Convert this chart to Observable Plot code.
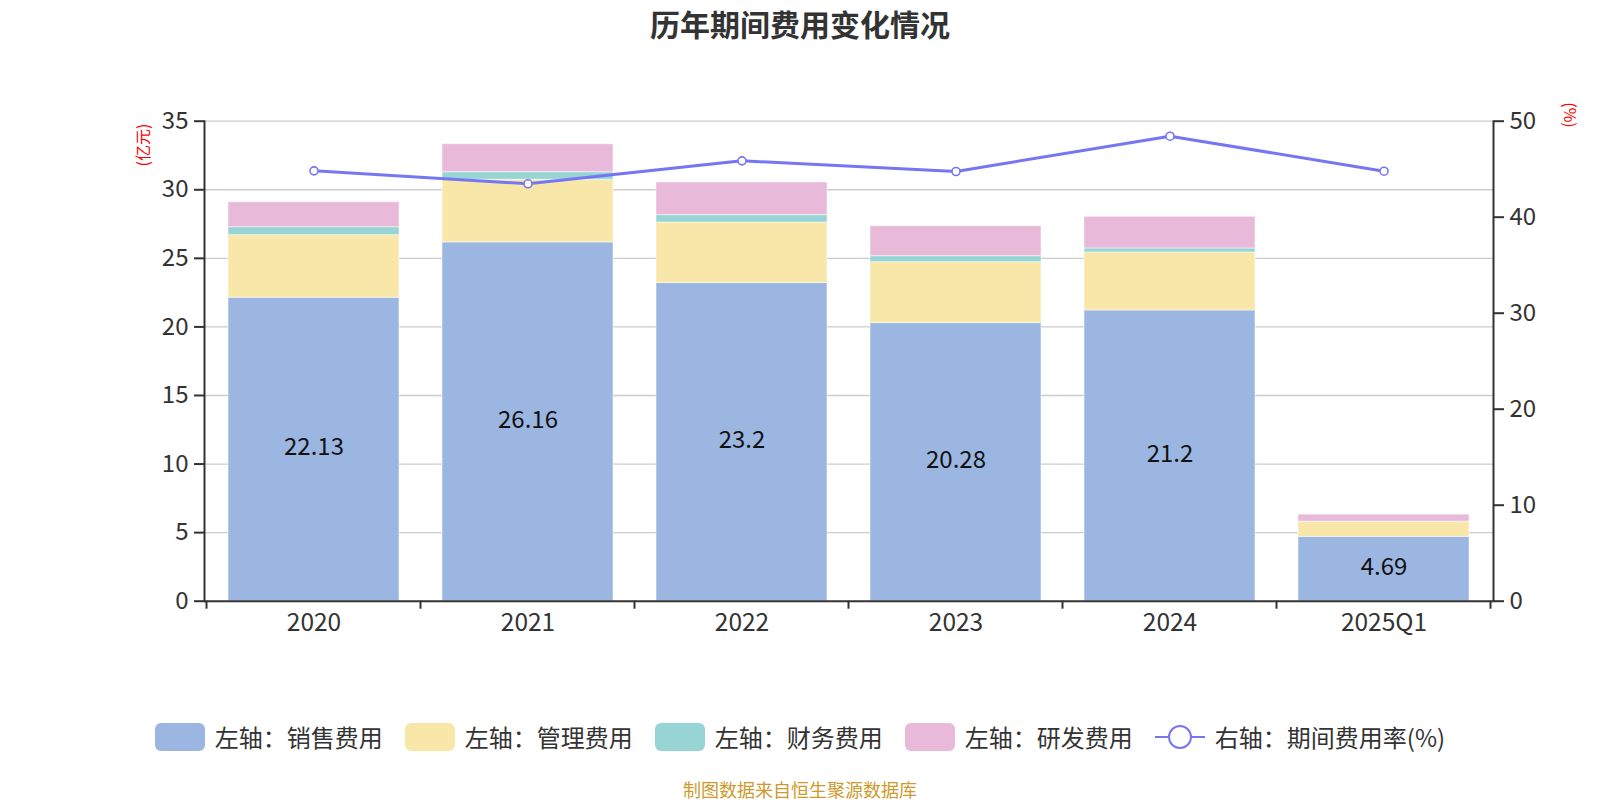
<!DOCTYPE html>
<html>
<head>
<meta charset="utf-8">
<script src="https://cdn.jsdelivr.net/npm/d3@7"></script>
<script src="https://cdn.jsdelivr.net/npm/@observablehq/plot@0.6"></script>
<style>
  html, body { margin: 0; padding: 0; background: #fff; overflow: hidden; }
  body { width: 1600px; height: 800px; position: relative; font-family: "Noto Sans CJK SC", "Noto Sans", sans-serif; }
  #chart { position: absolute; left: 0; top: 0; }
  .title { position: absolute; left: 0; width: 1600px; top: 2px; text-align: center; font-size: 30px; font-weight: bold; color: #333; z-index: 2; line-height: 42px; }
  .unit { position: absolute; width: 60px; text-align: center; color: #ff0000; font-size: 16px; z-index: 2; transform-origin: center; white-space: nowrap; line-height: 16px; }
  .legend { position: absolute; left: 0; width: 1600px; top: 719px; display: flex; justify-content: center; align-items: center; z-index: 2; font-size: 24px; color: #333; }
  .legend .item { display: flex; align-items: center; margin: 0 11px; }
  .legend .sw { width: 50px; height: 28px; border-radius: 6px; margin-right: 10px; }
  .legend svg { margin-right: 10px; }
  .caption { position: absolute; left: 0; width: 1600px; top: 777px; text-align: center; font-size: 18px; color: #cc9a2e; z-index: 2; line-height: 24px; }
</style>
</head>
<body>
<div class="title">历年期间费用变化情况</div>
<div class="unit" style="left:112px; top:137px; transform: rotate(-90deg);">(亿元)</div>
<div class="unit" style="left:1541px; top:107px; transform: rotate(90deg);">(%)</div>
<div id="chart"></div>
<div class="legend" id="legend"></div>
<div class="caption">制图数据来自恒生聚源数据库</div>
<script>
const years = ["2020", "2021", "2022", "2023", "2024", "2025Q1"];
const sales = [22.13, 26.16, 23.2, 20.28, 21.2, 4.69];
const admin = [4.56, 4.57, 4.41, 4.44, 4.23, 1.10];
const finance = [0.58, 0.55, 0.54, 0.44, 0.29, 0.01];
const rnd = [1.82, 2.04, 2.38, 2.18, 2.31, 0.51];
const rate = [44.83, 43.48, 45.87, 44.76, 48.44, 44.79];

const seriesNames = ["左轴：销售费用", "左轴：管理费用", "左轴：财务费用", "左轴：研发费用"];
const seriesColors = ["#9bb7e1", "#f8e7a9", "#97d4d4", "#e8b9d9"];
const lineName = "右轴：期间费用率(%)";
const lineColor = "#7676f4";
const leftTicks = [0, 5, 10, 15, 20, 25, 30, 35];
const rightTicks = [0, 10, 20, 30, 40, 50];

const seriesValues = [sales, admin, finance, rnd];
const barData = [];
years.forEach((y, i) => {
  seriesValues.forEach((vals, s) => {
    barData.push({year: y, series: seriesNames[s], value: vals[i]});
  });
});
const salesData = years.map((y, i) => ({year: y, value: sales[i]}));
const rateData = years.map((y, i) => ({year: y, rate: rate[i]}));

const leftMax = leftTicks[leftTicks.length - 1];
const rightMax = rightTicks[rightTicks.length - 1];
const k = leftMax / rightMax;

const chart = Plot.plot({
  width: 1600,
  height: 660,
  marginTop: 120.7,
  marginBottom: 59.3,
  marginLeft: 204,
  marginRight: 107,
  style: {fontFamily: '"Noto Sans CJK SC", "Noto Sans", sans-serif', fontSize: "24px", color: "#333", background: "transparent"},
  x: {domain: years, paddingInner: 0.2, paddingOuter: 0.1, label: null},
  y: {domain: [0, leftMax], label: null},
  color: {domain: seriesNames, range: seriesColors},
  marks: [
    Plot.gridY({ticks: leftTicks.filter(d => d > 0), stroke: "#cccccc", strokeOpacity: 1, strokeWidth: 1.3}),
    Plot.barY(barData, {x: "year", y: "value", fill: "series", stroke: "#ffffff", strokeOpacity: 0.5, strokeWidth: 1}),
    Plot.text(salesData, {x: "year", y: d => d.value / 2, text: d => String(d.value), fill: "#111", fontSize: 24, dy: -2}),
    Plot.line(rateData, {x: "year", y: d => d.rate * k, stroke: lineColor, strokeWidth: 3}),
    Plot.dot(rateData, {x: "year", y: d => d.rate * k, r: 4, fill: "white", stroke: lineColor, strokeWidth: 1.6}),
    Plot.ruleY([0], {stroke: "#333", strokeWidth: 2}),
    Plot.frame({anchor: "left", stroke: "#333", strokeWidth: 2}),
    Plot.frame({anchor: "right", stroke: "#333", strokeWidth: 2}),
    Plot.axisY({anchor: "left", ticks: leftTicks, tickSize: 10, tickPadding: 6, label: null, strokeWidth: 2, fontSize: 24}),
    Plot.axisY({anchor: "right", ticks: rightTicks.map(v => v * k), tickFormat: d => String(Math.round(d / k)), tickSize: 10, tickPadding: 6, label: null, strokeWidth: 2, fontSize: 24}),
    Plot.axisX({tickSize: 0, tickPadding: 12, label: null, fontSize: 24.5})
  ]
});
document.getElementById("chart").appendChild(chart);

// boundary ticks on the x axis, computed from the library's band scale
const xs = chart.scale("x");
const ys = chart.scale("y");
const half = (xs.step - xs.bandwidth) / 2;
const bounds = years.map(y => xs.apply(y) - half);
bounds.push(xs.apply(years[years.length - 1]) + xs.bandwidth + half);
const y0 = ys.apply(0);
const g = d3.select(chart).append("g").attr("stroke", "#333").attr("stroke-width", 2);
bounds.forEach(b => {
  g.append("line").attr("x1", b).attr("x2", b).attr("y1", y0).attr("y2", y0 + 8);
});

// legend
const legend = document.getElementById("legend");
seriesNames.forEach((name, i) => {
  const it = document.createElement("div");
  it.className = "item";
  it.innerHTML = `<div class="sw" style="background:${seriesColors[i]}"></div><span>${name}</span>`;
  legend.appendChild(it);
});
const li = document.createElement("div");
li.className = "item";
li.innerHTML = `<svg width="50" height="28"><line x1="0" x2="50" y1="14" y2="14" stroke="${lineColor}" stroke-width="2"/><circle cx="25" cy="14" r="11" fill="white" stroke="${lineColor}" stroke-width="2"/></svg><span>${lineName}</span>`;
legend.appendChild(li);
</script>
</body>
</html>
